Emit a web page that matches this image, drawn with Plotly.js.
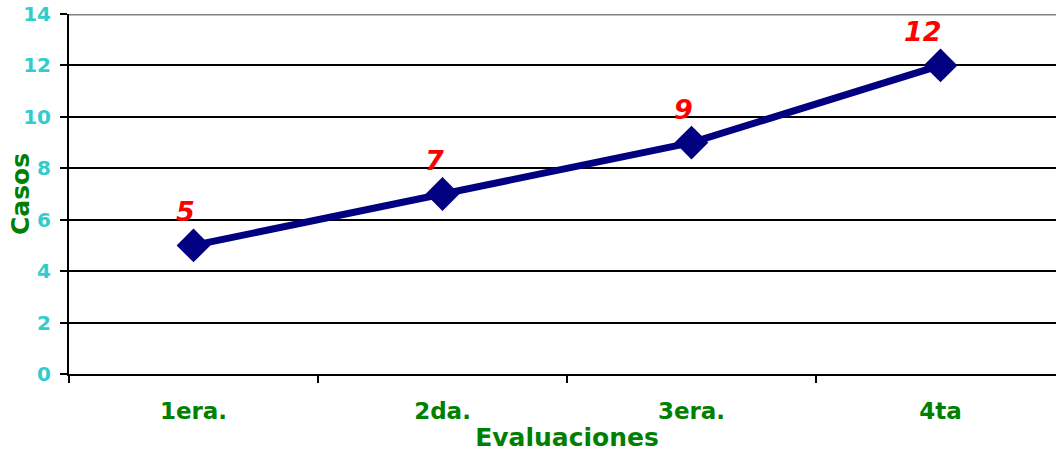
<!DOCTYPE html>
<html>
<head>
<meta charset="utf-8">
<script src="https://cdn.plot.ly/plotly-3.0.1.min.js"></script>
<style>
html,body{margin:0;padding:0;overflow:hidden;background:#fff;}
#chart{width:1066px;height:452px;}
</style>
</head>
<body>
<div id="chart"></div>
<script>
const categories = ["1era.", "2da.", "3era.", "4ta"];
const casos = [5, 7, 9, 12];
const yTicks = [0, 2, 4, 6, 8, 10, 12, 14];
const xTitle = "Evaluaciones";
const yTitle = "Casos";

const FONT = "DejaVu Sans, Verdana, sans-serif";

const trace = {
  x: categories,
  y: casos,
  type: "scatter",
  mode: "lines+markers",
  line: {color: "#000080", width: 7},
  marker: {symbol: "diamond", size: 26, color: "#000080"},
  hoverinfo: "skip",
  cliponaxis: false
};

const annotations = categories.map((c, i) => ({
  x: c, y: casos[i], xref: "x", yref: "y",
  text: "<b><i>" + casos[i] + "</i></b>",
  showarrow: false,
  xanchor: "right", yanchor: "bottom",
  xshift: 3, yshift: 16,
  font: {family: FONT, size: 27, color: "#FF0000"}
}));

annotations.push({
  x: 0, xref: "paper", xanchor: "center", xshift: -49,
  y: 0.5, yref: "paper", yanchor: "middle", yshift: 0,
  text: "<b>" + yTitle + "</b>", textangle: -90, showarrow: false,
  font: {family: FONT, size: 25, color: "#008000"}
});

const layout = {
  width: 1066, height: 452,
  margin: {l: 69, r: 1, t: 14, b: 78},
  paper_bgcolor: "#fff", plot_bgcolor: "#fff",
  showlegend: false,
  xaxis: {
    type: "category",
    range: [-0.5, 3.5],
    showgrid: false, zeroline: false,
    showline: true, linecolor: "#000", linewidth: 2,
    ticks: "outside", tickson: "boundaries", ticklen: 7, tickwidth: 2, tickcolor: "#000",
    ticklabelstandoff: 15,
    tickfont: {family: FONT, size: 23, color: "#008000", weight: "bold"},
    title: {text: "<b>" + xTitle + "</b>", standoff: 0, font: {family: FONT, size: 25, color: "#008000"}}
  },
  yaxis: {
    range: [0, 14],
    tickvals: yTicks,
    showgrid: true, gridcolor: "#000", gridwidth: 2,
    zeroline: false,
    showline: true, linecolor: "#000", linewidth: 2,
    ticks: "outside", ticklen: 7, tickwidth: 2, tickcolor: "#000",
    ticklabelstandoff: 5,
    tickfont: {family: FONT, size: 20, color: "#33CCCC", weight: "bold"}
  },
  shapes: [{
    type: "line", xref: "paper", yref: "y", x0: 0, x1: 1, y0: 14, y1: 14,
    line: {color: "#808080", width: 3}
  }],
  annotations: annotations
};

Plotly.newPlot("chart", [trace], layout, {displayModeBar: false, staticPlot: true});
</script>
</body>
</html>
